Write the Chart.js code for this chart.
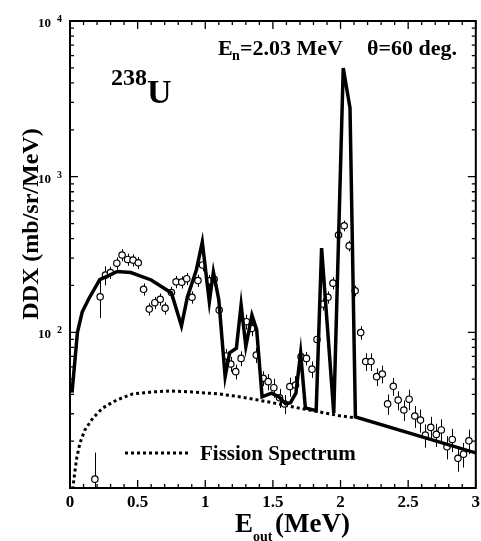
<!DOCTYPE html>
<html>
<head>
<meta charset="utf-8">
<script src="https://cdn.jsdelivr.net/npm/chart.js@4.4.0/dist/chart.umd.min.js"></script>
<style>
  html, body { margin: 0; padding: 0; background: #fff; }
</style>
</head>
<body>
<canvas id="ddx" width="481" height="541"></canvas>
<script>
// calculated DDX (solid line)
const calcE = [0.015, 0.055, 0.09, 0.14, 0.22, 0.35, 0.45, 0.6, 0.75, 0.824, 0.868, 0.934, 0.978, 1.03, 1.06, 1.10, 1.147, 1.18, 1.23, 1.265, 1.30, 1.345, 1.38, 1.42, 1.49, 1.545, 1.595, 1.63, 1.67, 1.705, 1.74, 1.82, 1.86, 1.95, 2.02, 2.07, 2.11, 3.0];
const calcV = [41, 100, 135, 165, 218, 246, 242, 217, 179, 110, 169, 251, 380, 157, 244, 162, 52, 74, 79, 150, 81, 129, 104, 38.5, 40.7, 38.4, 34.7, 35.3, 40.7, 73.6, 32.7, 31.4, 348, 30.3, 4990, 2760, 28.6, 16.8];

// fission spectrum (dotted line)
const fisE = [0.02, 0.037, 0.051, 0.074, 0.11, 0.17, 0.243, 0.346, 0.463, 0.61, 0.735, 0.904, 1.10, 1.25, 1.47, 1.64, 1.985, 2.11];
const fisV = [9.8, 13, 15.8, 19.5, 23.6, 28.2, 32.7, 36.8, 40.2, 41.4, 42, 41.4, 40.2, 38.6, 35.7, 33.3, 29.2, 28.2];

// measured points and relative errors (%)
const expE = [0.184, 0.223, 0.262, 0.299, 0.346, 0.385, 0.426, 0.466, 0.505, 0.544, 0.586, 0.627, 0.667, 0.703, 0.75, 0.784, 0.826, 0.863, 0.902, 0.946, 0.98, 1.029, 1.066, 1.103, 1.152, 1.189, 1.225, 1.265, 1.304, 1.343, 1.377, 1.429, 1.465, 1.507, 1.549, 1.586, 1.625, 1.667, 1.708, 1.748, 1.789, 1.826, 1.868, 1.907, 1.944, 1.985, 2.027, 2.064, 2.108, 2.149, 2.186, 2.225, 2.267, 2.309, 2.348, 2.39, 2.426, 2.468, 2.507, 2.549, 2.591, 2.627, 2.667, 2.708, 2.745, 2.787, 2.826, 2.868, 2.909, 2.949];
const expV = [11.4, 169, 233, 242, 278, 314, 294, 291, 280, 189, 141, 155, 163, 143, 180, 211, 210, 221, 168, 215, 271, 214, 219, 139, 70.5, 62.6, 55.9, 68, 117, 106, 71.4, 50.7, 48.2, 44.1, 38, 34.7, 44.8, 45.9, 69.7, 68, 58, 90, 152, 168, 207, 422, 484, 359, 185, 99.6, 64.9, 64.9, 51.9, 54, 34.7, 45, 36.7, 31.7, 37.2, 29, 27.3, 21.9, 24.5, 22.1, 23.6, 18.4, 20.5, 15.5, 16.5, 20.1];
const expErr = [48, 27, 14, 9, 9, 9, 9, 9, 9, 9, 9, 9, 9, 9, 9, 9, 9, 9, 9, 9, 9, 9, 9, 9, 11, 11, 11, 11, 11, 11, 11, 11, 12, 14, 14, 14, 14, 14, 10, 10, 12, 10, 9, 9, 9, 8, 8, 8, 8, 10, 13, 13, 13, 13, 15, 13, 14, 15, 15, 16, 17, 17, 17, 17, 17, 17, 17, 18, 18, 18];

// axis labels
const xTickVals = [0, 0.5, 1, 1.5, 2, 2.5, 3];
const xTickText = ['0', '0.5', '1', '1.5', '2', '2.5', '3'];
const yTickVals = [100, 1000, 10000];
const yTickExp = ['2', '3', '4'];

const SERIF = '"Liberation Serif", "DejaVu Serif", serif';

function pts(xs, ys) {
    return xs.map((x, i) => ({x: x, y: ys[i]}));
}

// 🖊️ frame, inward ticks, labels, error bars
const decorations = {
    id: 'decorations',
    beforeDatasetsDraw(chart) {
        const {ctx, chartArea: a, scales: {x, y}} = chart;
        ctx.save();
        ctx.beginPath();
        ctx.rect(a.left, a.top, a.right - a.left, a.bottom - a.top);
        ctx.clip();
        ctx.strokeStyle = '#000';
        ctx.lineWidth = 1;
        expE.forEach((e, i) => {
            const px = Math.round(x.getPixelForValue(e)) + 0.5;
            const d = expErr[i] / 100;
            ctx.beginPath();
            ctx.moveTo(px, y.getPixelForValue(expV[i] * (1 + d)));
            ctx.lineTo(px, y.getPixelForValue(Math.max(expV[i] * (1 - d), 1)));
            ctx.stroke();
        });
        ctx.restore();
    },
    afterDraw(chart) {
        const {ctx, chartArea: a, scales: {x, y}} = chart;
        ctx.save();
        ctx.strokeStyle = '#000';
        ctx.fillStyle = '#000';

        // frame
        ctx.lineWidth = 2;
        ctx.strokeRect(a.left, a.top, a.right - a.left, a.bottom - a.top);

        // ticks
        ctx.lineWidth = 1.3;
        ctx.beginPath();
        for (let k = 0; k <= 30; k++) {
            const px = x.getPixelForValue(k / 10);
            const len = k % 5 === 0 ? 8 : 4;
            ctx.moveTo(px, a.bottom); ctx.lineTo(px, a.bottom - len);
            ctx.moveTo(px, a.top); ctx.lineTo(px, a.top + len);
        }
        [10, 100, 1000].forEach(dec => {
            for (let m = 1; m <= 9; m++) {
                const py = y.getPixelForValue(m * dec);
                const len = m === 1 ? 8 : 4;
                ctx.moveTo(a.left, py); ctx.lineTo(a.left + len, py);
                ctx.moveTo(a.right, py); ctx.lineTo(a.right - len, py);
            }
        });
        ctx.stroke();

        // x tick labels
        ctx.font = 'bold 17px ' + SERIF;
        ctx.textAlign = 'center';
        ctx.textBaseline = 'alphabetic';
        xTickVals.forEach((v, i) => {
            ctx.fillText(xTickText[i], x.getPixelForValue(v), 507);
        });

        // y tick labels 10^n
        yTickVals.forEach((v, i) => {
            const py = y.getPixelForValue(v);
            ctx.font = 'bold 13px ' + SERIF;
            ctx.textAlign = 'right';
            ctx.fillText('10', 51, py + 6);
            ctx.font = 'bold 10px ' + SERIF;
            ctx.textAlign = 'left';
            ctx.fillText(yTickExp[i], 57, py + 1);
        });

        // y title
        ctx.save();
        ctx.translate(38, 224);
        ctx.rotate(-Math.PI / 2);
        ctx.font = 'bold 24px ' + SERIF;
        ctx.textAlign = 'center';
        ctx.fillText('DDX (mb/sr/MeV)', 0, 0);
        ctx.restore();

        // x title E_out (MeV)
        ctx.textAlign = 'left';
        ctx.font = 'bold 27px ' + SERIF;
        ctx.fillText('E', 235, 532);
        ctx.font = 'bold 14px ' + SERIF;
        ctx.fillText('out', 253, 541);
        ctx.font = 'bold 27px ' + SERIF;
        ctx.fillText('(MeV)', 275, 532);

        // header
        ctx.font = 'bold 22px ' + SERIF;
        ctx.fillText('E', 218, 55);
        ctx.font = 'bold 14px ' + SERIF;
        ctx.fillText('n', 232, 60);
        ctx.font = 'bold 22px ' + SERIF;
        ctx.fillText('=2.03 MeV', 240, 55);
        ctx.fillText('\u03b8=60 deg.', 367, 55);

        // nucleus
        ctx.font = 'bold 24px ' + SERIF;
        ctx.fillText('238', 111, 85);
        ctx.font = 'bold 34px ' + SERIF;
        ctx.fillText('U', 147, 103);

        // legend
        ctx.lineWidth = 3;
        ctx.setLineDash([3, 3]);
        ctx.beginPath();
        ctx.moveTo(125, 453);
        ctx.lineTo(191, 453);
        ctx.stroke();
        ctx.setLineDash([]);
        ctx.font = 'bold 21px ' + SERIF;
        ctx.fillText('Fission Spectrum', 200, 460);

        ctx.restore();
    }
};

new Chart(document.getElementById('ddx'), {
    type: 'line',
    data: {
        datasets: [
            {
                label: 'Calculation',
                data: pts(calcE, calcV),
                borderColor: '#000',
                borderWidth: 3.5,
                pointRadius: 0,
                tension: 0,
                fill: false,
                order: 0
            },
            {
                label: 'Experiment',
                data: pts(expE, expV),
                showLine: false,
                pointRadius: 3.2,
                pointBorderWidth: 1.2,
                pointBorderColor: '#000',
                pointBackgroundColor: '#fff',
                order: 1
            },
            {
                label: 'Fission Spectrum',
                data: pts(fisE, fisV),
                borderColor: '#000',
                borderWidth: 3,
                borderDash: [3, 3],
                pointRadius: 0,
                tension: 0,
                fill: false,
                order: 2
            }
        ]
    },
    options: {
        responsive: false,
        animation: false,
        layout: { padding: { top: 21, right: 3, left: 0, bottom: 0 } },
        plugins: {
            legend: { display: false },
            tooltip: { enabled: false }
        },
        scales: {
            x: {
                type: 'linear',
                min: 0,
                max: 3,
                grid: { display: false },
                border: { display: false },
                ticks: { display: false },
                afterFit(s) { s.height = 53; }
            },
            y: {
                type: 'logarithmic',
                min: 10,
                max: 10000,
                grid: { display: false },
                border: { display: false },
                ticks: { display: false },
                afterFit(s) { s.width = 70; }
            }
        }
    },
    plugins: [decorations]
});
</script>
</body>
</html>
